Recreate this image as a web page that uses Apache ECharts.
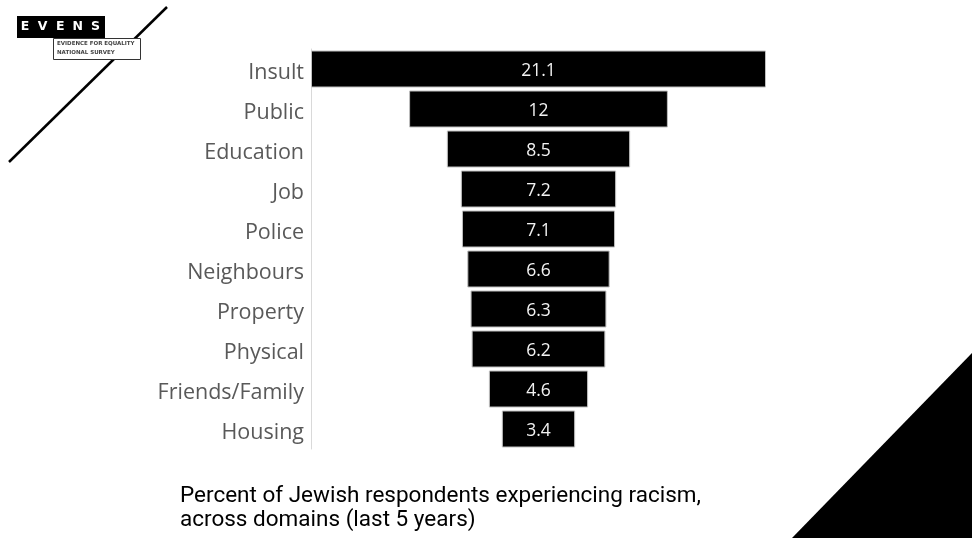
<!DOCTYPE html>
<html>
<head>
<meta charset="utf-8">
<script src="https://cdn.jsdelivr.net/npm/echarts@6/dist/echarts.min.js"></script>
<style>
  html, body { margin: 0; padding: 0; background: #ffffff; }
  #chart { width: 972px; height: 538px; }
</style>
</head>
<body>
<div id="chart"></div>
<script>
// Racism experienced by Jewish respondents, by domain (percent, last 5 years)
const categories = ['Insult', 'Public', 'Education', 'Job', 'Police', 'Neighbours',
                    'Property', 'Physical', 'Friends/Family', 'Housing'];
const percentValues = [21.1, 12, 8.5, 7.2, 7.1, 6.6, 6.3, 6.2, 4.6, 3.4];
const captionLines = ['Percent of Jewish respondents experiencing racism,',
                      'across domains (last 5 years)'];
const logoLetters = ['E', 'V', 'E', 'N', 'S'];
const logoSubtitle = ['EVIDENCE FOR EQUALITY', 'NATIONAL SURVEY'];

// Bars are centred: an invisible spacer of half the leftover width sits in front of each bar
const widest = Math.max(...percentValues);
const spacer = percentValues.map(v => (widest - v) / 2);

const chart = echarts.init(document.getElementById('chart'), null, { renderer: 'canvas' });

const logoGraphics = [
  // diagonal rule through the logo
  { type: 'line', shape: { x1: 167, y1: 7, x2: 9, y2: 162 },
    style: { stroke: '#000', lineWidth: 2.5 }, z: 10 },
  { type: 'rect', shape: { x: 17, y: 16, width: 88, height: 22 },
    style: { fill: '#000' }, z: 11 },
  { type: 'rect', shape: { x: 53.5, y: 38.5, width: 87, height: 21 },
    style: { fill: '#fff', stroke: '#333', lineWidth: 1 }, z: 11 }
];
logoLetters.forEach((ch, i) => {
  logoGraphics.push({
    type: 'text', x: 25 + i * 17.6, y: 27, z: 12,
    style: { text: ch, fill: '#fff', font: 'bold 12.5px "DejaVu Sans"',
             align: 'center', verticalAlign: 'middle' }
  });
});
logoSubtitle.forEach((line, i) => {
  logoGraphics.push({
    type: 'text', x: 57, y: 43.5 + i * 9, z: 12,
    style: { text: line, fill: '#444', font: 'bold 5.5px "DejaVu Sans"',
             align: 'left', verticalAlign: 'middle' }
  });
});

const captionGraphics = captionLines.map((line, i) => ({
  type: 'text', x: 180, y: 496 + i * 24.4, z: 10,
  style: { text: line, fill: '#000', font: '22.5px Roboto',
           align: 'left', verticalAlign: 'middle' }
}));

const option = {
  backgroundColor: '#ffffff',
  animation: false,
  grid: { left: 311, right: 206, top: 49, bottom: 89, containLabel: false },
  xAxis: {
    type: 'value', min: 0, max: widest, show: false
  },
  yAxis: {
    type: 'category', data: categories, inverse: true,
    axisLine: { show: true, lineStyle: { color: '#d9d9d9', width: 1 } },
    axisTick: { show: false },
    splitLine: { show: false },
    axisLabel: {
      margin: 7,
      formatter: v => '{c|' + v + '}',
      rich: {
        c: { color: '#595959', fontSize: 21.5, fontFamily: 'Open Sans',
             padding: [8, 0, 0, 0] }
      }
    }
  },
  series: [
    {
      name: 'spacer', type: 'bar', stack: 'funnel', data: spacer,
      itemStyle: { color: 'rgba(0,0,0,0)' }, silent: true,
      barCategoryGap: '7.5%'
    },
    {
      name: 'percent', type: 'bar', stack: 'funnel', data: percentValues,
      barCategoryGap: '7.5%',
      itemStyle: { color: '#000', borderColor: '#bfbfbf', borderWidth: 1 },
      label: {
        show: true, position: 'inside',
        formatter: p => '{v|' + p.value + '}',
        rich: {
          v: { color: '#f2f2f2', fontSize: 17.5, fontFamily: 'Open Sans',
               padding: [4, 0, 0, 0] }
        }
      }
    }
  ],
  graphic: [
    // black wedge in the lower-right corner
    { type: 'polygon', shape: { points: [[792, 538], [972, 353], [972, 538]] },
      style: { fill: '#000' }, z: 10 },
    ...captionGraphics,
    ...logoGraphics
  ]
};

chart.setOption(option);
</script>
</body>
</html>
